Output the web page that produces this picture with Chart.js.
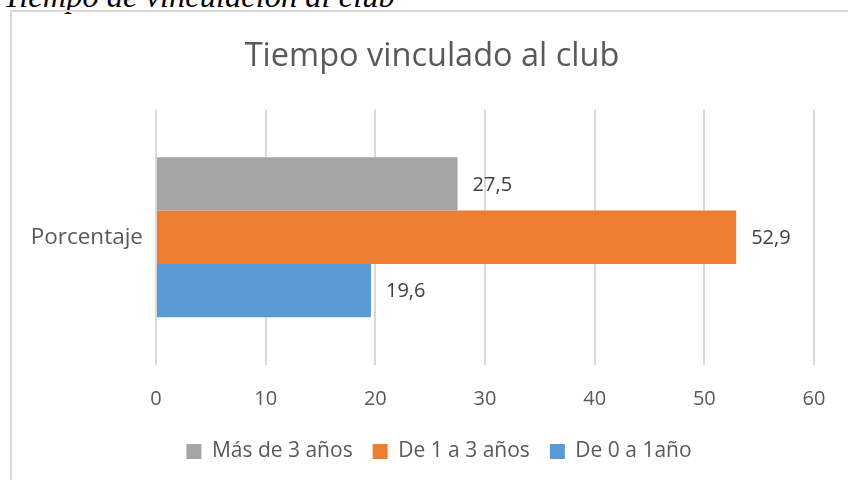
<!DOCTYPE html>
<html>
<head>
<meta charset="utf-8">
<script src="https://cdn.jsdelivr.net/npm/chart.js@4/dist/chart.umd.min.js"></script>
<style>
  html, body { margin: 0; padding: 0; background: #fff; overflow: hidden; }
  body { width: 848px; height: 480px; position: relative; }
  #leyenda {
    position: absolute; left: 3px; top: -20px; margin: 0;
    font-family: "Liberation Serif", serif; font-style: italic;
    font-size: 32.5px; line-height: 32px; color: #000; white-space: nowrap;
  }
  #marco {
    position: absolute; left: 10px; top: 10px; width: 860px; height: 490px;
    border-left: 2px solid #d9d9d9; border-top: 2px solid #d9d9d9;
  }
  #marco canvas { position: absolute; left: 0; top: 0; }
</style>
</head>
<body>
<p id="leyenda">Tiempo de vinculación al club</p>
<div id="marco"><canvas id="grafico" width="841" height="468"></canvas></div>
<script>
const categorias = ['Porcentaje'];
const masDe3 = [27.5];
const de1a3 = [52.9];
const de0a1 = [19.6];
const ticksX = [0, 10, 20, 30, 40, 50, 60];

// etiquetas de valor al final de cada barra (formato con coma decimal)
const etiquetasValor = {
    id: 'etiquetasValor',
    afterDatasetsDraw(chart) {
        const ctx = chart.ctx;
        ctx.save();
        ctx.font = "20px 'Open Sans', sans-serif";
        ctx.fillStyle = '#404040';
        ctx.textAlign = 'left';
        ctx.textBaseline = 'middle';
        chart.data.datasets.forEach(function(ds, i) {
            chart.getDatasetMeta(i).data.forEach(function(bar, j) {
                ctx.fillText(ds.data[j].toFixed(1).replace('.', ','), bar.x + 15, bar.y + 1);
            });
        });
        ctx.restore();
    }
};

// el titulo y la leyenda van centrados en todo el ancho, no solo en el area con padding
const centrarBloques = {
    id: 'centrarBloques',
    afterLayout(chart) {
        if (chart.titleBlock) { chart.titleBlock.left += 10; chart.titleBlock.right += 10; }
        if (chart.legend) { chart.legend.left += 17; chart.legend.right += 17; }
    }
};

const ctx = document.getElementById('grafico').getContext('2d');
new Chart(ctx, {
    type: 'bar',
    data: {
        labels: categorias,
        datasets: [
            { label: 'Más de 3 años', data: masDe3, backgroundColor: '#a5a5a5' },
            { label: 'De 1 a 3 años', data: de1a3, backgroundColor: '#ed7d31' },
            { label: 'De 0 a 1año', data: de0a1, backgroundColor: '#5b9bd5' }
        ]
    },
    options: {
        indexAxis: 'y',
        responsive: false,
        animation: false,
        datasets: {
            bar: { categoryPercentage: 0.627, barPercentage: 1 }
        },
        layout: {
            padding: { left: 18, right: 39, top: 0, bottom: 8 }
        },
        plugins: {
            title: {
                display: true,
                text: 'Tiempo vinculado al club',
                color: '#595959',
                font: { family: "'Open Sans', sans-serif", size: 32.5, weight: 'normal' },
                padding: { top: 25, bottom: 33.5 }
            },
            legend: {
                position: 'bottom',
                labels: {
                    color: '#595959',
                    boxWidth: 15,
                    boxHeight: 15,
                    padding: 20,
                    font: { family: "'Open Sans', sans-serif", size: 21 }
                }
            },
            tooltip: { enabled: false }
        },
        scales: {
            x: {
                min: 0,
                max: 60,
                afterBuildTicks: function(axis) {
                    axis.ticks = ticksX.map(function(v) { return { value: v }; });
                },
                afterFit: function(axis) { axis.height = 56; },
                ticks: {
                    color: '#595959',
                    padding: 22,
                    font: { family: "'Open Sans', sans-serif", size: 20 }
                },
                grid: { color: '#d9d9d9', lineWidth: 2, drawTicks: false },
                border: { display: false }
            },
            y: {
                afterFit: function(axis) { axis.width = 126; },
                ticks: {
                    color: '#595959',
                    padding: 13,
                    font: { family: "'Open Sans', sans-serif", size: 22.5 }
                },
                grid: { display: false, drawTicks: false },
                border: { display: false }
            }
        }
    },
    plugins: [etiquetasValor, centrarBloques]
});
</script>
</body>
</html>
